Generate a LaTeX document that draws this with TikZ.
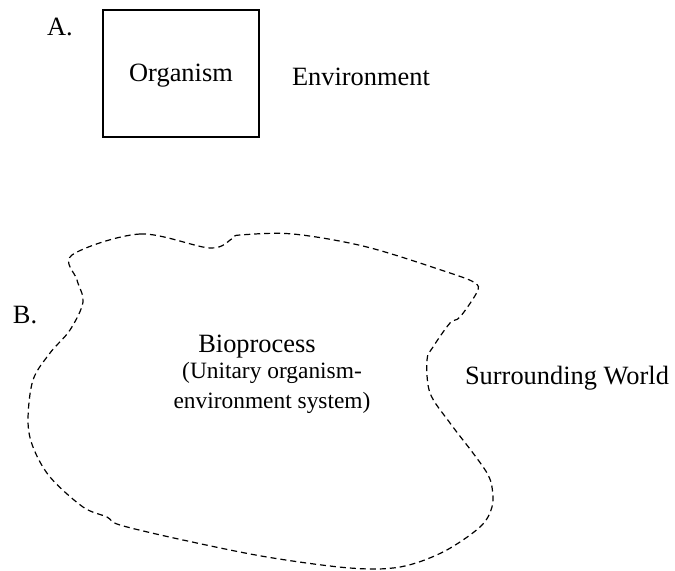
\documentclass[tikz,border=0pt]{standalone}
\usepackage{fontspec}
\setmainfont{Liberation Serif}
\usetikzlibrary{positioning}

\begin{document}
\begin{tikzpicture}[x=0.5pt,y=-0.5pt,
    txt/.style={inner sep=0pt,font=\fontsize{13.2}{15.8}\selectfont},
    smalltxt/.style={inner sep=0pt,align=center,font=\fontsize{11.7}{15}\selectfont},
    dashblob/.style={line width=0.6pt,dash pattern=on 3pt off 2pt}]
    \useasboundingbox (0,0) rectangle (675,570);

    % part A: organism in its environment
    \node[txt] (labelA) at (60,27) {A.};
    \draw[line width=0.6pt] (103,10) rectangle (259,137);
    \node[txt] (organism) at (181,76) {Organism};
    \node[txt] (environment) at (361,77) {Environment};

    % part B: the unitary bioprocess
    \node[txt] (labelB) at (25,315) {B.};
    \draw[dashblob] plot[smooth cycle,tension=0.55] coordinates {
        (72,255) (140,234) (210,248) (233,238) (240,235) (293,234) (367,247)
        (450,273) (475,283) (477,292) (460,317) (450,323) (433,347) (427,360)
        (430,393) (450,423) (473,453) (487,473) (492,487) (492,507) (480,527)
        (443,552) (400,567) (350,568) (267,557) (183,540) (120,525) (107,517)
        (83,507) (50,477) (33,447) (28,420) (33,380) (50,353) (70,330)
        (83,302) (77,280)};
    \node[txt] (bioprocess) at (257,347) {Bioprocess};
    \node[smalltxt] (unitary) at (272,388) {(Unitary organism-\\environment system)};
    \node[txt] (world) at (567,378) {Surrounding World};
\end{tikzpicture}
\end{document}
